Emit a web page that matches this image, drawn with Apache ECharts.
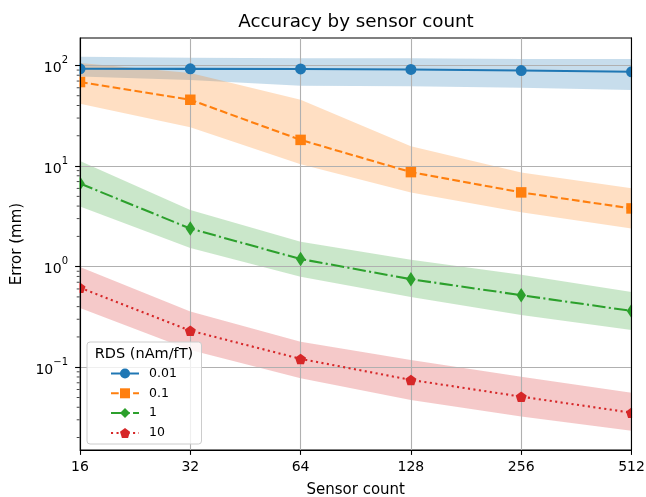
<!DOCTYPE html>
<html><head><meta charset="utf-8">
<script src="https://cdn.jsdelivr.net/npm/echarts@6/dist/echarts.min.js"></script>
<style>html,body{margin:0;padding:0;background:#fff}#c{width:646px;height:497px}</style>
</head><body><div id="c"></div>
<script>
// ---- data ----
const sensorCounts = [16, 32, 64, 128, 256, 512];
const rdsLabels = ['0.01', '0.1', '1', '10'];

const mean001  = [92.7, 92.5, 92.3, 91.3, 89, 86.5];
const upper001 = [122, 119, 118, 118, 116, 116];
const lower001 = [77.6, 71.6, 63, 62, 60, 57];

const mean01  = [68.4, 45.6, 18.2, 8.7, 5.47, 3.79];
const upper01 = [106, 84, 45.6, 15.7, 8.65, 6.0];
const lower01 = [41.6, 24.3, 10.4, 5.47, 3.48, 2.4];

const mean1  = [6.7, 2.39, 1.19, 0.75, 0.52, 0.363];
const upper1 = [11.2, 3.66, 1.77, 1.17, 0.83, 0.56];
const lower1 = [3.95, 1.53, 0.795, 0.50, 0.33, 0.235];

const mean10  = [0.618, 0.231, 0.121, 0.0748, 0.051, 0.0353];
const upper10 = [0.99, 0.357, 0.179, 0.118, 0.0806, 0.0558];
const lower10 = [0.388, 0.148, 0.0776, 0.0473, 0.0323, 0.0234];

const xTickValues = [16, 32, 64, 128, 256, 512];
const yMajorTicks = [0.1, 1, 10, 100];
const yMinorTicks = [0.02, 0.03, 0.04, 0.05, 0.06, 0.07, 0.08, 0.09,
                     0.2, 0.3, 0.4, 0.5, 0.6, 0.7, 0.8, 0.9,
                     2, 3, 4, 5, 6, 7, 8, 9,
                     20, 30, 40, 50, 60, 70, 80, 90];
const yMin = 0.01503, yMax = 187.5;

// ---- styling ----
const FONT = 'DejaVu Sans';
const colors = ['#1f77b4', '#ff7f0e', '#2ca02c', '#d62728'];
const bandColors = ['rgba(31,119,180,0.25)', 'rgba(255,127,14,0.25)', 'rgba(44,160,44,0.25)', 'rgba(214,39,40,0.25)'];
const LW = 2.08;
const pentagon = 'path://M0,-1 L0.951,-0.309 L0.588,0.809 L-0.588,0.809 L-0.951,-0.309 Z';
const styles = [
  { symbol: 'circle', size: 11, type: 'solid' },
  { symbol: 'rect', size: 10.5, type: [7.7, 3.33] },
  { symbol: 'diamond', size: [9.5, 14.5], type: [13.3, 3.33, 2.08, 3.33] },
  { symbol: pentagon, size: [11, 10.5], type: [2.08, 3.43] }
];
const means = [mean001, mean01, mean1, mean10];
const uppers = [upper001, upper01, upper1, upper10];
const lowers = [lower001, lower01, lower1, lower10];

const series = [];
for (let k = 0; k < 4; k++) {
  const up = uppers[k], lo = lowers[k];
  series.push({
    type: 'custom',
    name: 'band' + k,
    z: -1,
    silent: true,
    clip: true,
    xAxisIndex: 0, yAxisIndex: 0,
    data: [[sensorCounts[0], lo[0]]],
    encode: { x: 0, y: 1 },
    renderItem: function (params, api) {
      const pts = [];
      for (let i = 0; i < sensorCounts.length; i++) pts.push(api.coord([sensorCounts[i], up[i]]));
      for (let i = sensorCounts.length - 1; i >= 0; i--) pts.push(api.coord([sensorCounts[i], lo[i]]));
      return { type: 'polygon', shape: { points: pts }, style: { fill: bandColors[k], stroke: null } };
    }
  });
}
for (let k = 0; k < 4; k++) {
  series.push({
    type: 'line',
    name: rdsLabels[k],
    xAxisIndex: 0, yAxisIndex: 0,
    data: sensorCounts.map((x, i) => [x, means[k][i]]),
    symbol: styles[k].symbol,
    symbolSize: styles[k].size,
    showAllSymbol: true,
    itemStyle: { color: colors[k] },
    lineStyle: { color: colors[k], width: LW, type: styles[k].type, cap: 'butt' },
    emphasis: { disabled: true },
    animation: false,
    z: 3
  });
}
// minor y ticks (log-scale minor tick marks on the left spine)
series.push({
  type: 'scatter',
  name: 'minorTicks',
  xAxisIndex: 0, yAxisIndex: 0,
  data: yMinorTicks.map(v => [xTickValues[0], v]),
  symbol: 'rect',
  symbolSize: [2.8, 0.9],
  symbolOffset: [-1.9, 0],
  itemStyle: { color: '#000' },
  clip: false,
  silent: true,
  emphasis: { disabled: true },
  z: 20
});

function yLabel(v) {
  const e = Math.round(Math.log10(v));
  if (Math.abs(Math.log10(v) - e) > 1e-6) return '';
  const exp = e < 0 ? '\u2212' + (-e) : String(e);
  return '{b|10}{s|' + exp + '}';
}

const axisLineStyle = { color: '#000', width: 1.1 };

const chart = echarts.init(document.getElementById('c'), null, { renderer: 'canvas' });
chart.setOption({
  animation: false,
  backgroundColor: '#ffffff',
  title: {
    text: 'Accuracy by sensor count',
    left: 356, top: 13, padding: 0,
    textAlign: 'center',
    textStyle: { fontFamily: FONT, fontSize: 18.3, fontWeight: 'normal', color: '#000' }
  },
  grid: {
    left: 80, right: 14.5, top: 38, bottom: 47,
    containLabel: false, outerBoundsMode: 'none',
    show: true, borderColor: '#000', borderWidth: 1.1, backgroundColor: 'transparent'
  },
  legend: {
    data: rdsLabels,
    orient: 'vertical',
    left: 110, top: 367,
    padding: 0,
    itemWidth: 28, itemHeight: 12.5, itemGap: 6.8,
    selectedMode: false,
    z: 100,
    textStyle: { fontFamily: FONT, fontSize: 12.5, color: '#000', lineHeight: 12.5, padding: [0, 0, 0, 5] }
  },
  graphic: [
    // white masks just outside the plot area, so edge markers are clipped at the spines
    { type: 'rect', z: 5, silent: true, shape: { x: 0, y: 30, width: 79.4, height: 425 }, style: { fill: '#ffffff' } },
    { type: 'rect', z: 5, silent: true, shape: { x: 632.1, y: 30, width: 14, height: 425 }, style: { fill: '#ffffff' } },
    {
      type: 'rect', z: 50,
      shape: { x: 87, y: 342, width: 114.5, height: 102, r: 3 },
      style: { fill: 'rgba(255,255,255,0.8)', stroke: '#cccccc', lineWidth: 1 }
    },
    {
      type: 'text', z: 51,
      x: 144, y: 354,
      style: { text: 'RDS (nAm/fT)', font: '14.5px "DejaVu Sans"', fill: '#000', align: 'center', verticalAlign: 'middle' }
    }
  ],
  xAxis: {
    type: 'log', logBase: 2, min: 16, max: 512,
    name: 'Sensor count', nameLocation: 'middle', nameGap: 33,
    nameTextStyle: { fontFamily: FONT, fontSize: 15, color: '#000' },
    axisLine: { show: true, lineStyle: axisLineStyle },
    axisTick: { show: true, length: 4.9, lineStyle: axisLineStyle, customValues: xTickValues },
    axisLabel: { show: true, margin: 10, fontFamily: FONT, fontSize: 14, color: '#000', customValues: xTickValues,
                 formatter: v => String(Math.round(v)) },
    splitLine: { show: true, lineStyle: { color: '#b0b0b0', width: 1.1 } },
    minorTick: { show: false }
  },
  yAxis: [
    { // grid lines only (below the data)
      type: 'log', logBase: 10, min: yMin, max: yMax, position: 'left', z: 0,
      axisLine: { show: false },
      axisTick: { show: false, customValues: yMajorTicks },
      axisLabel: { show: false, customValues: yMajorTicks },
      splitLine: { show: true, lineStyle: { color: '#b0b0b0', width: 1.1 } }
    },
    { // spine, ticks and labels (above the data)
      type: 'log', logBase: 10, min: yMin, max: yMax, position: 'left', offset: 0, z: 10,
      name: 'Error (mm)', nameLocation: 'middle', nameGap: 52, nameRotate: 90,
      nameTextStyle: { fontFamily: FONT, fontSize: 15, color: '#000' },
      axisLine: { show: true, lineStyle: axisLineStyle },
      axisTick: { show: true, length: 4.9, lineStyle: axisLineStyle, customValues: yMajorTicks },
      axisLabel: {
        show: true, margin: 12, customValues: yMajorTicks,
        formatter: yLabel,
        rich: {
          b: { fontFamily: FONT, fontSize: 14, color: '#000', lineHeight: 20, verticalAlign: 'bottom' },
          s: { fontFamily: FONT, fontSize: 10, color: '#000', lineHeight: 20, verticalAlign: 'top' }
        }
      },
      splitLine: { show: false }
    },
    { // right spine (above the data)
      type: 'log', logBase: 10, min: yMin, max: yMax, position: 'right', offset: 0, z: 10,
      axisLine: { show: true, lineStyle: axisLineStyle },
      axisTick: { show: false },
      axisLabel: { show: false },
      splitLine: { show: false }
    }
  ],
  series: series
});
</script>
</body></html>
